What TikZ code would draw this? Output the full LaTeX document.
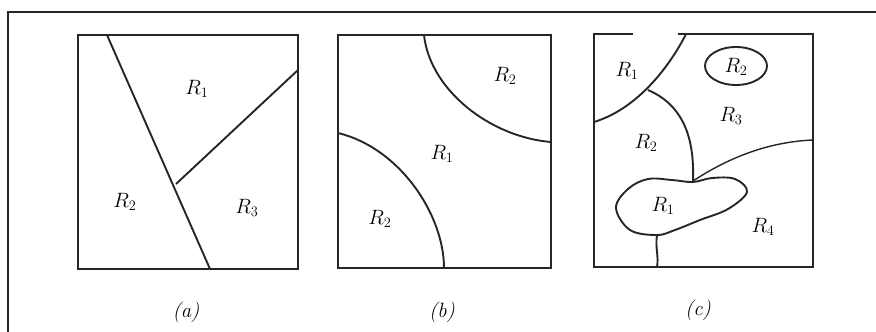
\documentclass[tikz,border=0pt]{standalone}
\begin{document}
\begin{tikzpicture}[x=1pt,y=-1pt,
  frame/.style={line width=2.2pt,black!85},
  box/.style={line width=2.1pt,black!85},
  bound/.style={line width=1.9pt,black!85},
  lab/.style={font=\huge},
  captext/.style={font=\huge\itshape}]
\useasboundingbox (0,0) rectangle (876,332);
% outer frame
\draw[frame] (8,332) -- (8,12) -- (876,12);
% panel (a)
\draw[box] (78,35) rectangle (298,269);
\coordinate (a1) at (107,35);
\coordinate (a2) at (210,269);
\coordinate (a3) at (176,184);
\coordinate (a4) at (298,70);
\draw[bound] (a1) -- (a2);
\draw[bound] (a3) -- (a4);
\node[lab] (aR1) at (197,89) {$R_1$};
\node[lab] (aR2) at (125,202) {$R_2$};
\node[lab] (aR3) at (247,208) {$R_3$};
\node[captext] (capa) at (186,312) {(a)};
% panel (b)
\draw[box] (338,35) rectangle (551,268);
\draw[bound] (424,35) .. controls (430,90) and (490,137) .. (551,142);
\draw[bound] (338,133) .. controls (400,148) and (444,215) .. (444,268);
\node[lab] (bR2a) at (505,76) {$R_2$};
\node[lab] (bR1) at (442,154) {$R_1$};
\node[lab] (bR2b) at (380,219) {$R_2$};
\node[captext] (capb) at (442,312) {(b)};
% panel (c)
\draw[box] (633,34) -- (594,34) -- (594,267) -- (813,267) -- (813,34) -- (678,34);
\draw[bound] (686,34) .. controls (672,62) and (640,108) .. (594,122);
\draw[bound] (648,90) .. controls (690,108) and (694,150) .. (693,181);
\draw[line width=1.4pt,black!85] (693,181) .. controls (725,160) and (765,142) .. (813,140);
\draw[bound] plot[smooth cycle,tension=0.6] coordinates
  {(693,182) (712,178) (735,179) (747,192) (728,209) (700,220) (675,230) (657,235) (630,230) (616,208) (628,189) (648,179) (672,180)};
\draw[bound] (657,235) .. controls (655,248) and (659,256) .. (657,267);
\draw[bound] (736,66) ellipse (31 and 19);
\node[lab] (cR1a) at (627,71) {$R_1$};
\node[lab] (cR2e) at (736,67) {$R_2$};
\node[lab] (cR3) at (731,116) {$R_3$};
\node[lab] (cR2) at (646,143) {$R_2$};
\node[lab] (cR1b) at (663,206) {$R_1$};
\node[lab] (cR4) at (763,227) {$R_4$};
\node[captext] (capc) at (698,310) {(c)};
\end{tikzpicture}
\end{document}
